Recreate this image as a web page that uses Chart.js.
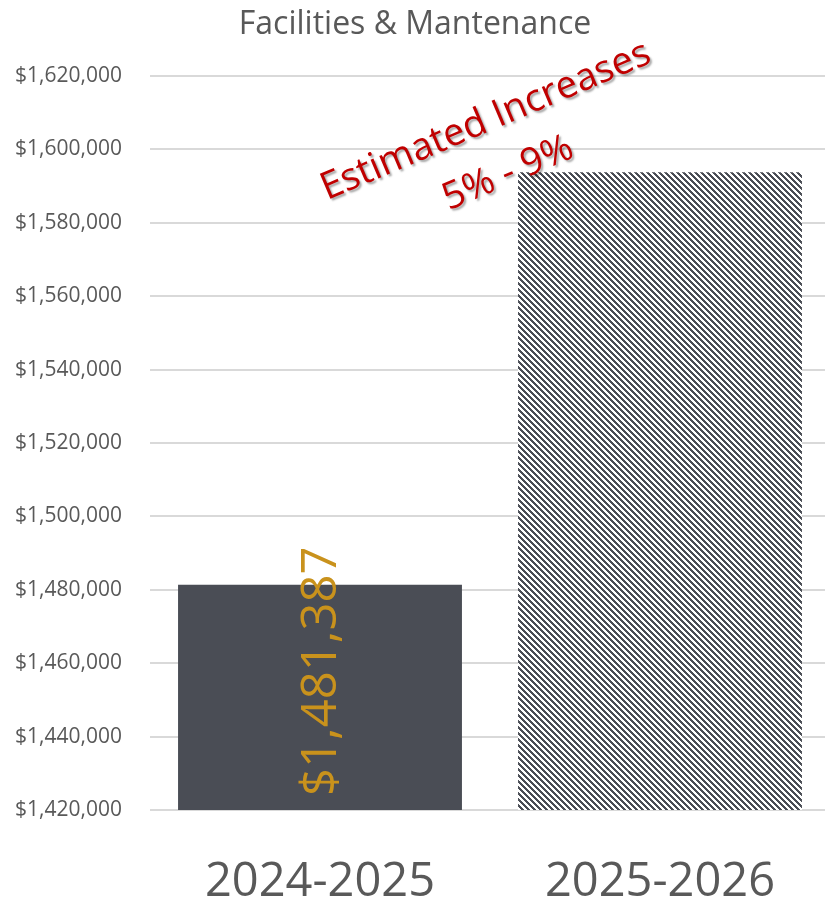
<!DOCTYPE html>
<html>
<head>
<meta charset="utf-8">
<script src="https://cdn.jsdelivr.net/npm/chart.js@4"></script>
<style>
  html, body { margin: 0; padding: 0; background: #fff; overflow: hidden; }
  #wrap { width: 830px; height: 900px; }
</style>
</head>
<body>
<div id="wrap"><canvas id="chart" width="830" height="900"></canvas></div>
<script>
const years = ['2024-2025', '2025-2026'];
const budget = [1481387, 1593800];
const barLabels = ['$1,481,387', ''];
const yMin = 1420000;
const yMax = 1620000;
const yStep = 20000;
const noteLines = ['Estimated Increases', '5% - 9%'];

const FONT = '"Open Sans", sans-serif';
const GRAY = '#595959';
const SLATE = '#4a4d55';

// pixel stripe fill like the office "wide downward diagonal" pattern
function stripePattern(ctx) {
  const tile = document.createElement('canvas');
  tile.width = 6;
  tile.height = 6;
  const t = tile.getContext('2d');
  const img = t.createImageData(6, 6);
  for (let y = 0; y < 6; y++) {
    for (let x = 0; x < 6; x++) {
      const i = (y * 6 + x) * 4;
      const dark = ((x - y + 6) % 6) < 3;
      img.data[i] = dark ? 74 : 255;
      img.data[i + 1] = dark ? 77 : 255;
      img.data[i + 2] = dark ? 85 : 255;
      img.data[i + 3] = 255;
    }
  }
  t.putImageData(img, 0, 0);
  return ctx.createPattern(tile, 'repeat');
}

const barLabelPlugin = {
  id: 'barLabel',
  afterDatasetsDraw(chart) {
    const { ctx } = chart;
    const base = chart.scales.y.getPixelForValue(yMin);
    const meta = chart.getDatasetMeta(0);
    meta.data.forEach((el, i) => {
      if (!barLabels[i]) return;
      const { x } = el.getProps(['x'], true);
      ctx.save();
      ctx.translate(x + 2, base - 14);
      ctx.rotate(-Math.PI / 2);
      ctx.font = '49px ' + FONT;
      ctx.fillStyle = '#c9921c';
      ctx.textAlign = 'left';
      ctx.textBaseline = 'middle';
      ctx.fillText(barLabels[i], 0, 0);
      ctx.restore();
    });
  }
};

const notePlugin = {
  id: 'note',
  afterDatasetsDraw(chart, args, opts) {
    const { ctx, scales: { x, y } } = chart;
    const cx = x.getPixelForValue(opts.at[0]);
    const cy = y.getPixelForValue(opts.at[1]);
    ctx.save();
    ctx.translate(cx, cy);
    ctx.rotate(opts.angle * Math.PI / 180);
    ctx.font = '38px ' + FONT;
    ctx.fillStyle = '#c00000';
    ctx.textAlign = 'center';
    ctx.textBaseline = 'alphabetic';
    ctx.shadowColor = 'rgba(0,0,0,0.35)';
    ctx.shadowOffsetX = 2;
    ctx.shadowOffsetY = 2;
    ctx.shadowBlur = 2;
    noteLines.forEach((line, i) => ctx.fillText(line, 0, i * opts.gap));
    ctx.restore();
  }
};

const ctx = document.getElementById('chart').getContext('2d');

new Chart(ctx, {
  type: 'bar',
  data: {
    labels: years,
    datasets: [{
      data: budget,
      backgroundColor: [SLATE, stripePattern(ctx)],
      borderWidth: 0,
      barPercentage: 0.835,
      categoryPercentage: 1
    }]
  },
  options: {
    responsive: false,
    animation: false,
    layout: { padding: 0 },
    plugins: {
      legend: { display: false },
      tooltip: { enabled: false },
      title: {
        display: true,
        text: 'Facilities & Mantenance',
        color: GRAY,
        font: { family: FONT, size: 32, weight: 'normal', lineHeight: 1.2 },
        padding: { top: 6, bottom: 31.6 }
      },
      note: { at: [0.5, 1605000], angle: -23, gap: 57 }
    },
    scales: {
      x: {
        grid: { display: false },
        border: { display: false },
        ticks: { color: GRAY, font: { family: FONT, size: 47 }, padding: 36 },
        afterFit: (s) => { s.height = 90; }
      },
      y: {
        min: yMin,
        max: yMax,
        grid: { color: '#d9d9d9', lineWidth: 2, drawTicks: false },
        border: { display: false },
        ticks: {
          stepSize: yStep,
          color: GRAY,
          padding: 28,
          font: { family: FONT, size: 21 },
          callback: (v) => '$' + v.toLocaleString('en-US')
        },
        afterFit: (s) => { s.width = 150; }
      }
    }
  },
  plugins: [barLabelPlugin, notePlugin]
});
</script>
</body>
</html>
